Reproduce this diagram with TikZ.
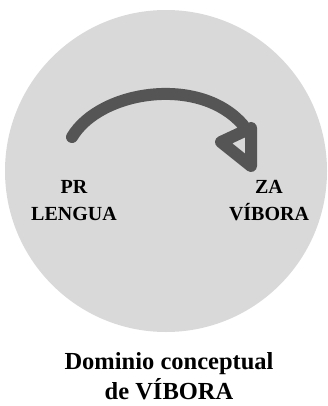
\documentclass[tikz,border=0pt]{standalone}
\usepackage{fontspec}
\setmainfont{Liberation Serif}
\usetikzlibrary{calc,positioning}
\definecolor{dominio}{HTML}{D9D9D9}
\definecolor{flecha}{HTML}{555555}

\begin{document}
\begin{tikzpicture}[x=1pt,y=-1pt,
  etiqueta/.style={inner sep=0pt,align=center,font=\bfseries\fontsize{20}{27}\selectfont},
  trazo/.style={line width=12pt,line cap=round,line join=round,draw=flecha}]
 \useasboundingbox (0,0) rectangle (327,406); %marco
 \node[circle,fill=dominio,inner sep=0pt,minimum size=322pt] (dom) at (166,171) {}; %dominio
 \coordinate (ini) at (72,137); %inicio
 \coordinate (fin) at (243,125); %fin
 \coordinate (t1) at (221,142);
 \coordinate (t2) at (251,128);
 \coordinate (t3) at (251,166);

 \draw[trazo] (ini) .. controls (100,90) and (200,75) .. (fin); %arco
 \draw[trazo] (t1)--(t2)--(t3)--cycle; %punta

 \node[etiqueta,anchor=north] (lengua) at (74,180) {PR\\LENGUA}; %origen
 \node[etiqueta,anchor=north] (vibora) at (269,180) {ZA\\VÍBORA}; %destino
 \node[inner sep=0pt,align=center,anchor=north,font=\bfseries\fontsize{24.5}{30}\selectfont]
   (titulo) at (169,352) {Dominio conceptual\\de VÍBORA}; %título
\end{tikzpicture}
\end{document}
